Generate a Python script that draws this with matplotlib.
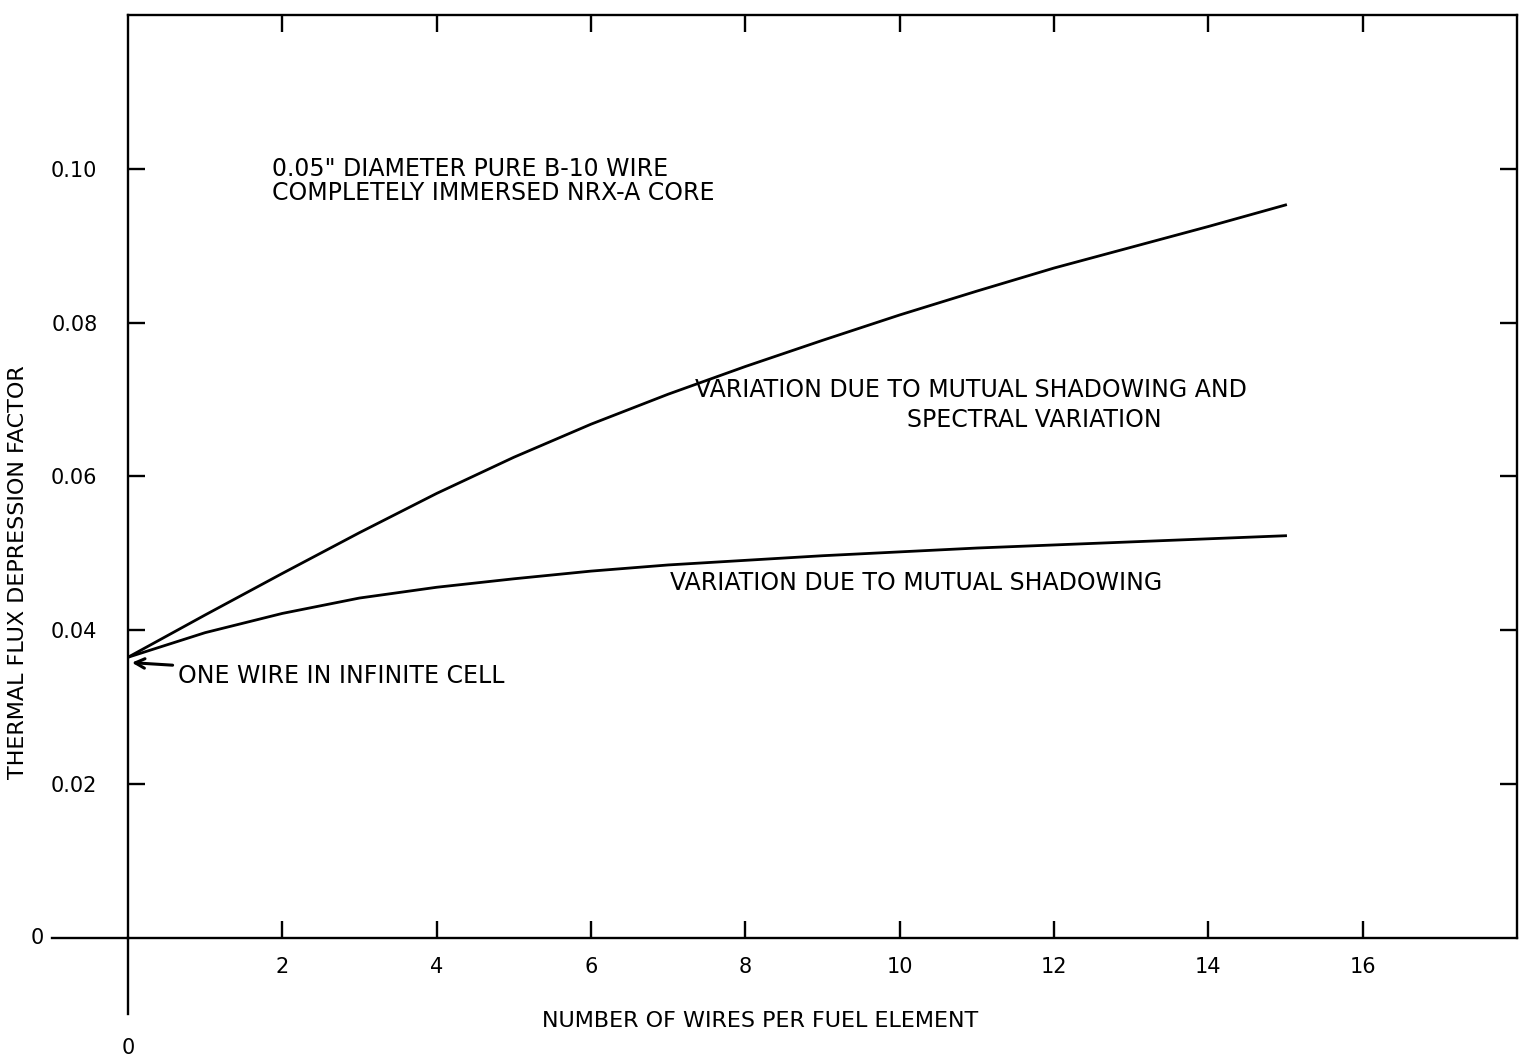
import matplotlib
matplotlib.use('Agg')
import matplotlib.pyplot as plt

# wires per fuel element
wires = [0, 1, 2, 3, 4, 5, 6, 7, 8, 9, 10, 11, 12, 13, 14, 15]
# mutual shadowing + spectral variation
spectral = [0.0365, 0.0420, 0.0474, 0.0527, 0.0578, 0.0625, 0.0668, 0.0707,
            0.0743, 0.0777, 0.0810, 0.0841, 0.0871, 0.0898, 0.0925, 0.0953]
# mutual shadowing only
shadow = [0.0365, 0.0397, 0.0422, 0.0442, 0.0456, 0.0467, 0.0477, 0.0485,
          0.0491, 0.0497, 0.0502, 0.0507, 0.0511, 0.0515, 0.0519, 0.0523]

xticks = [2, 4, 6, 8, 10, 12, 14, 16]
yticks = [0.02, 0.04, 0.06, 0.08, 0.10]
ylabels = ['0.02', '0.04', '0.06', '0.08', '0.10']

plt.rcParams['font.family'] = ['DejaVu Sans']
fs = 17
tfs = 15

fig = plt.figure(figsize=(15.31, 10.61), dpi=100)
ax = fig.add_axes([0.0836, 0.1159, 0.9073, 0.8700])

ax.plot(wires, spectral, color='black', lw=2.0, solid_joinstyle='round')
ax.plot(wires, shadow, color='black', lw=2.0, solid_joinstyle='round')

ax.set_xlim(0, 18)
ax.set_ylim(0, 0.12)

for s in ax.spines.values():
    s.set_linewidth(1.7)

ax.set_xticks(xticks)
ax.set_xticklabels([str(t) for t in xticks], fontsize=tfs)
ax.set_yticks(yticks)
ax.set_yticklabels(ylabels, fontsize=tfs)
ax.tick_params(axis='both', direction='in', length=12, width=1.7,
               top=True, right=True)
ax.tick_params(axis='x', pad=14)
ax.tick_params(axis='y', pad=22)

# extend the zero lines past the frame
ax.plot([-0.055, 0], [0, 0], transform=ax.transAxes, color='black',
        lw=1.7, clip_on=False)
ax.plot([0, 0], [0, -0.082], transform=ax.transAxes, color='black',
        lw=1.7, clip_on=False)

ax.text(1.87, 0.0984, '0.05" DIAMETER PURE B-10 WIRE\nCOMPLETELY IMMERSED NRX-A CORE',
        fontsize=fs, va='center', ha='left', linespacing=1.0)
ax.text(7.35, 0.0712, 'VARIATION DUE TO MUTUAL SHADOWING AND',
        fontsize=fs, va='center', ha='left')
ax.text(11.75, 0.0674, 'SPECTRAL VARIATION',
        fontsize=fs, va='center', ha='center')
ax.text(7.02, 0.0461, 'VARIATION DUE TO MUTUAL SHADOWING',
        fontsize=fs, va='center', ha='left')
ax.annotate('ONE WIRE IN INFINITE CELL', xy=(0.05, 0.0358), xytext=(0.65, 0.0341),
            fontsize=fs, va='center', ha='left',
            arrowprops=dict(arrowstyle='->', color='black', lw=2.2,
                            shrinkA=2, shrinkB=0))

fig.text(760 / 1531, 1 - 1021 / 1061, 'NUMBER OF WIRES PER FUEL ELEMENT',
         fontsize=16, ha='center', va='center')
fig.text(18 / 1531, 1 - 572 / 1061, 'THERMAL FLUX DEPRESSION FACTOR',
         fontsize=16, ha='center', va='center', rotation=90)
fig.text(128 / 1531, 1 - 1048 / 1061, '0', fontsize=tfs, ha='center', va='center')
fig.text(37 / 1531, 1 - 938 / 1061, '0', fontsize=tfs, ha='center', va='center')

fig.savefig('out.png', dpi=100)
